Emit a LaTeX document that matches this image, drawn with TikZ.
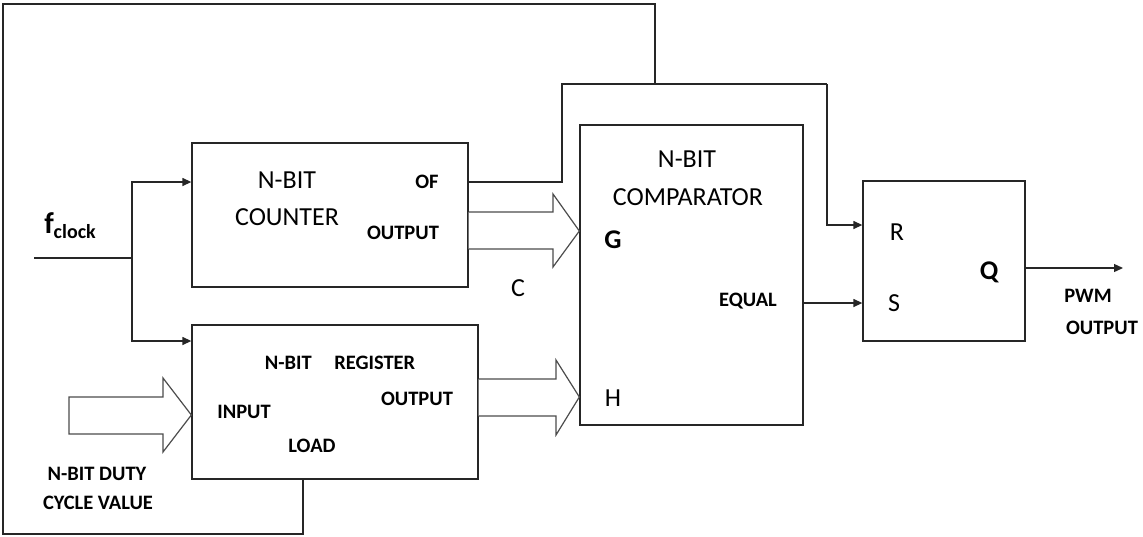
\documentclass[tikz,border=0pt]{standalone}
\usepackage{fontspec}
\setmainfont{Carlito}
\usetikzlibrary{arrows.meta,calc}
\begin{document}
\begin{tikzpicture}[x=1pt,y=-1pt,
  blk/.style={draw=black!85,line width=1.3pt,fill=white,inner sep=0pt},
  wire/.style={draw=black!85,line width=1.3pt},
  arr/.style={wire,-{Triangle[length=9pt,width=8pt]}},
  barrow/.style={draw=black!70,line width=1.2pt,fill=white,line join=miter},
  big/.style={font=\fontsize{26}{28}\selectfont,inner sep=0pt},
  sml/.style={font=\fontsize{20.5}{22}\selectfont\bfseries,inner sep=0pt}]
\useasboundingbox (0,0) rectangle (1143,536);
% boxes
\node[blk,minimum width=276pt,minimum height=144pt] (counter) at (330,215) {};
\node[blk,minimum width=286pt,minimum height=154pt] (register) at (335,402) {};
\node[blk,minimum width=223pt,minimum height=300pt] (comp) at (691.5,275) {};
\node[blk,minimum width=162pt,minimum height=160pt] (sr) at (944,261) {};
% texts
\node[big] (t1) at (287,180) {N-BIT};
\node[big] (t2) at (287,217) {COUNTER};
\node[sml] (tof) at (427,182) {OF};
\node[sml] (tcout) at (403,233) {OUTPUT};
\node[big] (tc) at (518,288) {C};
\node[sml] (treg) at (340,363) {N-BIT\hspace{1.1em}REGISTER};
\node[sml] (trout) at (417,399) {OUTPUT};
\node[sml] (tin) at (244,412) {INPUT};
\node[sml] (tload) at (312,446) {LOAD};
\node[sml] (tduty) at (97,474) {N-BIT DUTY};
\node[sml] (tcyc) at (98,503) {CYCLE VALUE};
\node[big] (t3) at (687,159) {N-BIT};
\node[big] (t4) at (688,197) {COMPARATOR};
\node[big,font=\fontsize{27}{28}\selectfont\bfseries] (tg) at (613,240) {G};
\node[big] (th) at (613,398) {H};
\node[sml] (teq) at (748,301) {EQUAL};
\node[big] (tr) at (897,232) {R};
\node[big] (ts) at (894,303) {S};
\node[big,font=\fontsize{27}{28}\selectfont\bfseries] (tq) at (989,272) {Q};
\node[sml] (tpwm) at (1088,296) {PWM};
\node[sml] (tpout) at (1102,328) {OUTPUT};
\node[inner sep=0pt,font=\bfseries] (tf) at (70,226) {{\fontsize{30}{30}\selectfont f}{\fontsize{20}{20}\selectfont\raisebox{-5pt}{clock}}};
% ports
\coordinate (clkin) at (34,258);
\coordinate (jclk) at (132,258);
\coordinate (cclk) at (counter.west |- 0,182);
\coordinate (rclk) at (register.west |- 0,341);
\coordinate (ofp) at (counter.east |- 0,182);
\coordinate (of1) at (562,182);
\coordinate (of2) at (562,84);
\coordinate (of3) at (827,84);
\coordinate (rin) at (sr.west |- 0,225);
\coordinate (fb1) at (655,84);
\coordinate (fb2) at (655,4);
\coordinate (fb3) at (3,4);
\coordinate (fb4) at (3,534);
\coordinate (ldp) at (register.south -| 303,0);
\coordinate (fb5) at (303,534);
\coordinate (eqp) at (comp.east |- 0,303);
\coordinate (sin) at (sr.west |- 0,303);
\coordinate (qp) at (sr.east |- 0,268);
\coordinate (pwm) at (1123,268);
% clock wiring
\draw[wire] (clkin) -- (jclk);
\draw[arr] (jclk) |- (cclk);
\draw[arr] (jclk) |- (rclk);
% OF to R
\draw[wire] (ofp) -- (of1) -- (of2) -- (of3);
\draw[arr] (of3) |- (rin);
% feedback to load
\draw[wire] (fb1) -- (fb2) -- (fb3) -- (fb4) -- (fb5) -- (ldp);
% equal to S
\draw[arr] (eqp) -- (sin);
\draw[arr] (qp) -- (pwm);
% block arrows
\draw[barrow] (counter.east |- 0,212) -- (553,212) -- (553,194) -- (comp.west |- 0,231) -- (553,267) -- (553,249) -- (counter.east |- 0,249);
\draw[barrow] (register.east |- 0,379) -- (556,379) -- (556,360) -- (comp.west |- 0,397) -- (556,435) -- (556,416) -- (register.east |- 0,416);
\draw[barrow] (69,397) -- (163,397) -- (163,378) -- (register.west |- 0,415) -- (163,452) -- (163,434) -- (69,434) -- cycle;
\end{tikzpicture}
\end{document}
